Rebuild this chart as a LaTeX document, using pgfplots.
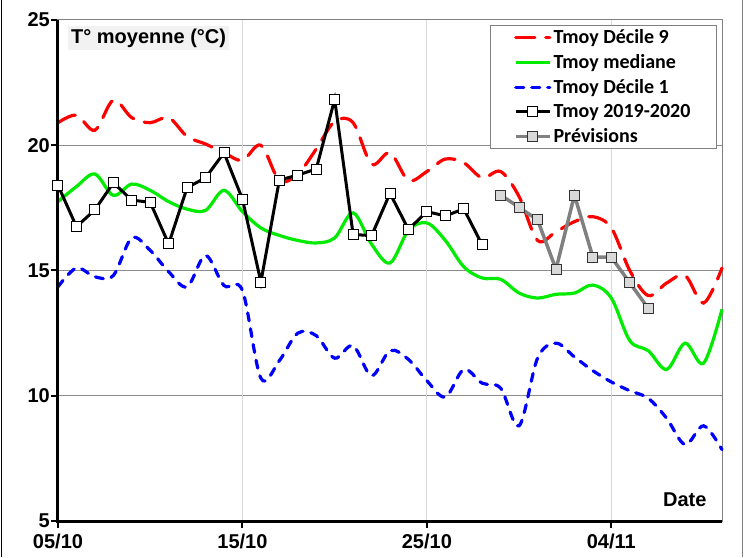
\documentclass[border=0pt]{standalone}
\usepackage{pgfplots}
\pgfplotsset{compat=1.18}
\usepackage{fontspec}
\setmainfont{Liberation Sans}
\newfontfamily\legfont{Carlito}
\definecolor{cRed}{RGB}{255,0,0}
\definecolor{cGreen}{RGB}{0,235,0}
\definecolor{cBlue}{RGB}{0,0,255}
\definecolor{cGray}{RGB}{128,128,128}
\definecolor{cMark}{RGB}{217,217,217}
\definecolor{cGridH}{RGB}{140,140,140}
\definecolor{cGridV}{RGB}{217,217,217}
\begin{document}
\begin{tikzpicture}
\useasboundingbox (-58pt,-36pt) rectangle (691pt,521pt);
\draw[black, line width=1.2pt] (-56.5pt,-36pt) -- (-56.5pt,521pt);
\draw[cGray, line width=1pt] (684pt,-36pt) -- (684pt,521pt);
\begin{axis}[
  at={(0pt,0pt)}, anchor=south west,
  scale only axis, width=664pt, height=501pt,
  xmin=0, xmax=36, ymin=5, ymax=25,
  clip=false,
  xtick={0,10,20,30}, xticklabels={05/10,15/10,25/10,04/11},
  ytick={5,10,15,20,25}, yticklabels={5,10,15,20,25},
  xtick pos=bottom, ytick pos=left,
  tick align=outside,
  major tick length=7pt,
  tick style={black, line width=2pt},
  axis line style={cGray, line width=1pt},
  ymajorgrids, major grid style={cGridH, line width=1pt},
  ticklabel style={font=\bfseries\fontsize{20}{24}\selectfont},
  yticklabel style={inner xsep=1pt},
  xticklabel style={inner ysep=6pt},
  legend style={at={(0.9925,0.99)}, anchor=north east, draw=cGray, line width=1pt, fill=white,
    font=\legfont\bfseries\fontsize{20}{24}\selectfont, inner xsep=24pt, inner ysep=2pt,
    row sep=5.5pt, cells={anchor=west}},
  legend image code/.code={\draw[mark repeat=2,mark phase=2,#1] plot coordinates {(0pt,0pt) (17pt,0pt) (34pt,0pt)};},
]
\draw[cGridV, line width=1pt] (axis cs:10,5) -- (axis cs:10,25);
\draw[cGridV, line width=1pt] (axis cs:20,5) -- (axis cs:20,25);
\draw[cGridV, line width=1pt] (axis cs:30,5) -- (axis cs:30,25);

\addplot[cRed, line width=3.2pt, line cap=round, dash pattern=on 19pt off 11pt, smooth, tension=0.55, no marks] coordinates {
(0,20.9) (1,21.2) (2,20.6) (3,21.8) (4,21.1) (5,20.9) (6,21.1) (7,20.35) (8,20.05) (9,19.7)
(10,19.4) (11,20.0) (12,18.6) (13,18.85) (14,19.85) (15,20.95) (16,20.9) (17,19.25) (18,19.7) (19,18.6)
(20,18.95) (21,19.45) (22,19.3) (23,18.7) (24,18.95) (25,17.95) (26,16.2) (27,16.55) (28,16.95) (29,17.15)
(30,16.7) (31,15.0) (32,14.0) (33,14.5) (34,14.8) (35,13.7) (36,15.1)};
\addlegendentry{Tmoy Décile 9}

\addplot[cGreen, line width=3.2pt, smooth, tension=0.55, no marks] coordinates {
(0,17.75) (1,18.35) (2,18.85) (3,18.0) (4,18.45) (5,18.2) (6,17.75) (7,17.45) (8,17.4) (9,18.2)
(10,17.35) (11,16.7) (12,16.4) (13,16.2) (14,16.1) (15,16.3) (16,17.3) (17,16.05) (18,15.3) (19,16.6)
(20,16.9) (21,16.2) (22,15.15) (23,14.7) (24,14.65) (25,14.1) (26,13.9) (27,14.05) (28,14.1) (29,14.42)
(30,13.9) (31,12.2) (32,11.8) (33,11.05) (34,12.1) (35,11.3) (36,13.45)};
\addlegendentry{Tmoy mediane}

\addplot[cBlue, line width=3.2pt, line cap=round, dash pattern=on 8pt off 8pt, smooth, tension=0.55, no marks] coordinates {
(0,14.35) (1,15.1) (2,14.75) (3,14.8) (4,16.3) (5,15.8) (6,14.95) (7,14.35) (8,15.6) (9,14.4)
(10,14.2) (11,10.7) (12,11.4) (13,12.5) (14,12.4) (15,11.5) (16,12.0) (17,10.8) (18,11.8) (19,11.45)
(20,10.6) (21,9.95) (22,11.05) (23,10.5) (24,10.3) (25,8.8) (26,11.5) (27,12.1) (28,11.55) (29,11.0)
(30,10.55) (31,10.2) (32,9.9) (33,9.1) (34,8.05) (35,8.8) (36,7.85)};
\addlegendentry{Tmoy Décile 1}

\addplot[black, line width=3pt, mark=square*, mark size=5pt, mark options={fill=white, draw=black, line width=1pt, solid}] coordinates {
(0,18.4) (1,16.75) (2,17.42) (3,18.5) (4,17.81) (5,17.72) (6,16.06) (7,18.31) (8,18.7) (9,19.7)
(10,17.85) (11,14.54) (12,18.61) (13,18.81) (14,19.05) (15,21.83) (16,16.44) (17,16.39) (18,18.08) (19,16.64)
(20,17.35) (21,17.18) (22,17.46) (23,16.02)};
\addlegendentry{Tmoy 2019-2020}

\addplot[cGray, line width=3.5pt, mark=square*, mark size=5pt, mark options={fill=cMark, draw=black!80, line width=1pt, solid}] coordinates {
(24,18.01) (25,17.52) (26,17.02) (27,15.05) (28,18.01) (29,15.53) (30,15.53) (31,14.51) (32,13.49)};
\addlegendentry{Prévisions}

\draw[black, line width=3pt] (rel axis cs:0,1) -- (rel axis cs:0,0) -- (rel axis cs:1,0);
\node[anchor=base west, fill=black!5, inner sep=3pt, font=\bfseries\fontsize{20}{24}\selectfont] at (rel axis cs:0.015,0.954) {T° moyenne (°C)};
\node[anchor=base east, inner sep=0pt, font=\bfseries\fontsize{20}{24}\selectfont] at (rel axis cs:0.977,0.028) {Date};
\end{axis}
\end{tikzpicture}
\end{document}
